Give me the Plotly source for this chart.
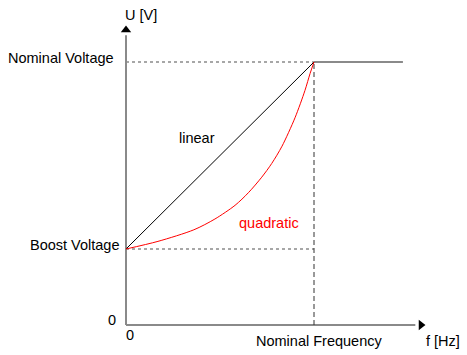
import plotly.graph_objects as go

# Normalised units: frequency 1 = nominal frequency, voltage 1 = nominal voltage
nominal_f = 1.0
nominal_u = 1.0
boost_u = 0.289
f_end = 1.473          # end of flat (field weakening) line
x_axis_end = 1.569
y_axis_end = 1.122

# quadratic curve
quad_f = [0.0, 0.170, 0.361, 0.473, 0.580, 0.651, 0.722, 0.775, 0.830, 0.899, 0.952, 0.979, 1.0]
quad_u = [0.289, 0.318, 0.362, 0.403, 0.455, 0.503, 0.562, 0.614, 0.680, 0.788, 0.892, 0.956, 1.0]

font = "Liberation Sans, Arial, sans-serif"
FS = 14.5
GRAY = "#8a8a8a"

fig = go.Figure()

# axes
fig.add_trace(go.Scatter(x=[0, 0], y=[0, y_axis_end - 0.02], mode="lines",
                         line=dict(color=GRAY, width=2), hoverinfo="skip"))
fig.add_trace(go.Scatter(x=[0, x_axis_end - 0.03], y=[0, 0], mode="lines",
                         line=dict(color=GRAY, width=2), hoverinfo="skip"))
# arrowheads
fig.add_trace(go.Scatter(x=[0], y=[y_axis_end], mode="markers",
                         marker=dict(symbol="triangle-up", size=9, color="black"), hoverinfo="skip"))
fig.add_trace(go.Scatter(x=[x_axis_end], y=[0], mode="markers",
                         marker=dict(symbol="triangle-right", size=9, color="black"), hoverinfo="skip"))

# dashed guides
fig.add_trace(go.Scatter(x=[0, nominal_f], y=[nominal_u, nominal_u], mode="lines",
                         line=dict(color=GRAY, width=1.5, dash="3px,3px"), hoverinfo="skip"))
fig.add_trace(go.Scatter(x=[0, nominal_f], y=[boost_u, boost_u], mode="lines",
                         line=dict(color=GRAY, width=1.5, dash="3px,3px"), hoverinfo="skip"))
fig.add_trace(go.Scatter(x=[nominal_f, nominal_f], y=[0, nominal_u], mode="lines",
                         line=dict(color="#333333", width=1, dash="5px,3px"), hoverinfo="skip"))

# flat line
fig.add_trace(go.Scatter(x=[nominal_f, f_end], y=[nominal_u, nominal_u], mode="lines",
                         line=dict(color=GRAY, width=2), hoverinfo="skip"))

# linear
fig.add_trace(go.Scatter(x=[0, nominal_f], y=[boost_u, nominal_u], mode="lines",
                         line=dict(color="black", width=1), hoverinfo="skip"))
# quadratic
fig.add_trace(go.Scatter(x=quad_f, y=quad_u, mode="lines", line_shape="spline",
                         line=dict(color="red", width=1, smoothing=0.8), hoverinfo="skip"))

def px_x(px):
    return (px - 126) / 188.0

def px_y(py):
    return (325 - py) / 263.0

texts = [
    ("U [V]", px_x(141), px_y(15), "center", "black"),
    ("Nominal Voltage", px_x(116), px_y(58), "right", "black"),
    ("Boost Voltage", px_x(122), px_y(245), "right", "black"),
    ("0", px_x(118), px_y(320), "right", "black"),
    ("0", px_x(130), px_y(335), "center", "black"),
    ("Nominal Frequency", px_x(319), px_y(341), "center", "black"),
    ("f [Hz]", px_x(443), px_y(341), "center", "black"),
    ("linear", px_x(197), px_y(138), "center", "black"),
    ("quadratic", px_x(269), px_y(223), "center", "red"),
]
for t, x, y, al, c in texts:
    fig.add_annotation(x=x, y=y, text=t, showarrow=False, xanchor=al, yanchor="middle",
                       font=dict(family=font, size=FS, color=c))

fig.update_layout(
    width=467, height=355,
    margin=dict(l=0, r=0, t=0, b=0),
    paper_bgcolor="white", plot_bgcolor="white",
    showlegend=False,
    xaxis=dict(range=[-126 / 188, (467 - 126) / 188], visible=False, fixedrange=True),
    yaxis=dict(range=[(325 - 355) / 263, 325 / 263], visible=False, fixedrange=True),
)

fig.write_html("out.html", config={"displayModeBar": False},
               post_script="document.body.style.margin='0px';document.body.style.overflow='hidden';")
